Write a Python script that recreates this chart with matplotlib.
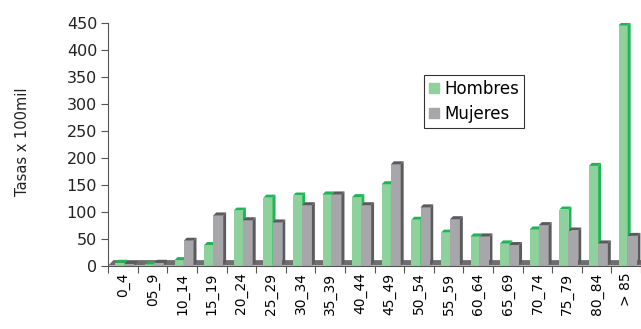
import matplotlib
matplotlib.use("Agg")
from matplotlib import pyplot as plt
from matplotlib.patches import Patch

grupos = ['0_4', '05_9', '10_14', '15_19', '20_24', '25_29', '30_34', '35_39', '40_44',
          '45_49', '50_54', '55_59', '60_64', '65_69', '70_74', '75_79', '80_84', '> 85']
hombres = [5, 2, 10, 38, 102, 126, 130, 132, 127, 151, 85, 61, 54, 41, 67, 104, 185, 446]
mujeres = [3, 5, 46, 93, 84, 80, 112, 132, 112, 188, 108, 86, 54, 38, 75, 65, 41, 55]

verde, verde_osc = '#8fd19c', '#1fb454'
gris, gris_osc = '#a7a7ab', '#5b5b5d'

fig = plt.figure(figsize=(6.41, 3.29), dpi=100)
ax = fig.add_axes([108.3 / 641, 1 - 265.5 / 329, (641 - 108.3) / 641, 242.2 / 329])

dx, dy = 0.1, 5.6  # fake 3d depth


def barra(x0, w, h, cara, lado):
    ax.bar(x0, h, width=w, align='edge', color=cara, linewidth=0, zorder=2)
    x1 = x0 + w
    ax.fill([x1, x1 + dx, x1 + dx, x1], [0, dy, h + dy, h], color=lado, lw=0, zorder=2)
    ax.fill([x0, x0 + dx, x1 + dx, x1], [h, h + dy, h + dy, h], color=lado, lw=0, zorder=2)


n = len(grupos)
# piso
ax.fill([0, 0.17, n + 0.17, n], [0, 10, 10, 0], color='#6e6e6e', lw=0, zorder=1)

for i in range(n):
    barra(i + 0.24, 0.31, hombres[i], verde, verde_osc)
    barra(i + 0.55, 0.33, mujeres[i], gris, gris_osc)

ax.set_xlim(0, (641 - 108.3) / 29.7)
ax.set_ylim(0, 450)
ax.set_yticks(range(0, 451, 50))
ax.set_xticks(range(0, n + 1))
ax.set_xticklabels([])
ax.set_xticks([i + 0.5 for i in range(n)], minor=True)
ax.set_xticklabels(grupos, minor=True, rotation=90)
ax.tick_params(axis='x', which='minor', length=0, pad=5)
ax.tick_params(axis='x', which='major', length=5, color='#555555')
ax.tick_params(axis='y', length=5, color='#555555', pad=3)
ax.tick_params(labelsize=11.5, labelcolor='#222222')

for s in ['top', 'right']:
    ax.spines[s].set_visible(False)
for s in ['left', 'bottom']:
    ax.spines[s].set_color('#555555')
    ax.spines[s].set_zorder(3)

ax.set_ylabel('Tasas x 100mil', fontsize=10.5, color='#222222')
ax.yaxis.set_label_coords(-0.147, 0.51)

handles = [Patch(color=verde), Patch(color=gris)]
leg = ax.legend(handles, ['Hombres', 'Mujeres'], loc='upper left',
                bbox_to_anchor=(0.592, 0.787), fontsize=12, frameon=True,
                fancybox=False, edgecolor='black', handlelength=0.6, handleheight=0.6,
                handletextpad=0.35, borderpad=0.3, labelspacing=0.42, borderaxespad=0)
leg.get_frame().set_linewidth(0.8)

fig.savefig('out.png', dpi=100)
